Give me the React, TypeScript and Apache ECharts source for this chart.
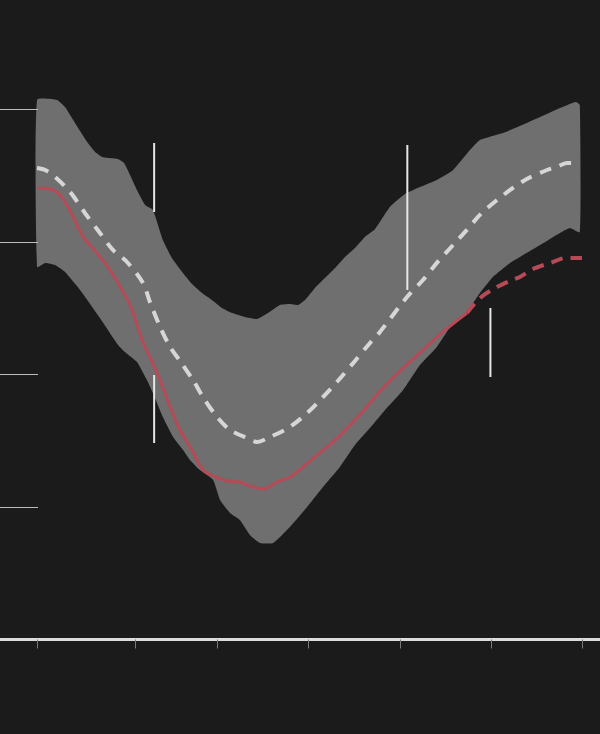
import React, { useEffect, useRef } from "react";
import * as echarts from "echarts";

// x: days from first tick, y: value units (ticks at 10,20,30,40)
const xTicks = [0, 32.5, 59.8, 90.0, 120.6, 150.8, 181.0];
const yTicks = [10, 20, 30, 40];

const bandUpper: number[][] = [
  [0, 40.72], [6.6, 40.72], [9.3, 40.19], [11.6, 39.36], [14.3, 38.38], [16.9, 37.47],
  [19.3, 36.79], [21.6, 36.42], [24.2, 36.34], [26.9, 36.26], [28.9, 35.96], [30.9, 35.06],
  [33.2, 33.92], [35.9, 32.79], [38.5, 32.42], [41.8, 30.15], [44.8, 28.79], [48.2, 27.74],
  [51.5, 26.83], [54.8, 26.15], [58.1, 25.62], [61.4, 25.02], [64.8, 24.64], [69.1, 24.34],
  [73.1, 24.19], [76.7, 24.64], [80.7, 25.25], [84.0, 25.32], [86.7, 25.25], [89.0, 25.62],
  [92.3, 26.53], [95.6, 27.28], [99.0, 28.04], [102.3, 28.87], [105.6, 29.55], [108.9, 30.38],
  [112.3, 30.98], [117.2, 32.64], [122.2, 33.62], [127.2, 34.15], [132.8, 34.68], [138.2, 35.43],
  [143.8, 36.94], [147.1, 37.7], [154.8, 38.23], [160.4, 38.75], [167.1, 39.43], [173.7, 40.11],
  [177.0, 40.42], [179.0, 40.57], [180.3, 40.34],
];

const bandLower: number[][] = [
  [0, 28.11], [2.7, 28.42], [6.0, 28.26], [9.3, 27.74], [14.3, 26.38], [20.9, 24.26],
  [26.9, 22.23], [29.2, 21.7], [33.2, 20.94], [36.5, 19.58], [38.5, 18.6], [41.8, 16.79],
  [45.2, 15.28], [48.5, 14.3], [50.8, 13.55], [54.1, 12.79], [58.5, 12.04], [60.8, 10.53],
  [64.1, 9.55], [67.4, 9.02], [70.7, 7.89], [74.1, 7.28], [78.4, 7.28], [84.0, 8.49],
  [89.7, 10.0], [95.0, 11.51], [100.6, 13.02], [105.6, 14.68], [110.6, 15.96], [115.6, 17.32],
  [121.6, 18.83], [127.2, 20.72], [132.8, 22.08], [138.2, 23.89], [142.8, 24.72], [147.1, 26.15],
  [151.4, 27.36], [157.1, 28.42], [160.4, 28.87], [167.1, 29.77], [173.7, 30.68], [177.0, 31.06],
  [180.3, 30.75],
];

const meanLine: number[][] = [
  [0, 35.58], [2.7, 35.43], [6.0, 34.91], [11.0, 33.77], [15.9, 32.19], [20.9, 30.68],
  [25.2, 29.4], [29.9, 28.49], [35.2, 26.91], [37.5, 25.47], [40.9, 23.58], [44.2, 22.08],
  [47.5, 21.02], [51.8, 19.58], [55.1, 18.3], [59.8, 16.79], [64.1, 15.81], [69.7, 15.21],
  [73.1, 14.91], [77.4, 15.28], [84.0, 16.04], [89.7, 17.09], [95.0, 18.3], [99.6, 19.43],
  [105.6, 21.02], [110.6, 22.38], [113.9, 23.21], [122.9, 25.85], [128.2, 27.13], [132.8, 28.42],
  [138.2, 29.77], [142.8, 30.91], [147.1, 32.04], [152.8, 33.17], [158.1, 34.08], [162.7, 34.75],
  [169.4, 35.43], [172.7, 35.66], [176.0, 35.96], [179.7, 35.96],
];

const currentLine: number[][] = [
  [0, 34.08], [4.3, 34.0], [7.6, 33.55], [11.0, 32.34], [15.3, 30.38], [19.9, 29.17],
  [24.2, 27.89], [27.6, 26.6], [30.9, 25.25], [34.9, 22.6], [39.9, 20.11], [44.2, 17.55],
  [47.5, 15.81], [51.8, 14.15], [55.1, 12.79], [58.5, 12.34], [63.1, 11.96], [67.4, 11.89],
  [70.7, 11.58], [75.1, 11.36], [79.7, 11.89], [84.0, 12.26], [88.3, 13.02], [93.0, 13.92],
  [98.3, 14.91], [104.0, 16.19], [108.9, 17.4], [114.9, 18.98], [121.6, 20.49], [128.2, 21.85],
  [134.8, 23.21], [142.8, 24.64],
];

const forecastLine: number[][] = [
  [142.8, 24.64], [147.1, 25.77], [152.8, 26.6], [157.1, 27.06], [160.4, 27.36], [164.7, 27.96],
  [171.4, 28.49], [175.4, 28.79], [181.0, 28.79],
];

const markerSegments: number[][][] = [
  [[38.9, 37.47], [38.9, 32.26]],
  [[38.9, 19.96], [38.9, 14.83]],
  [[123.0, 37.32], [123.0, 26.38]],
  [[150.6, 25.02], [150.6, 19.81]],
];

export default function App() {
  const ref = useRef<HTMLDivElement>(null);
  useEffect(() => {
    if (!ref.current) return;
    const chart = echarts.init(ref.current, undefined, { renderer: "svg" });
    const option: any = {
      animation: false,
      backgroundColor: "#1b1b1b",
      grid: { left: 0, right: 0, top: 0, bottom: 94.5, containLabel: false },
      xAxis: {
        type: "value",
        min: -12.3,
        max: 187,
        z: 6,
        axisLine: { show: true, onZero: false, lineStyle: { color: "#dcdcdc", width: 3 } },
        axisTick: {
          show: true,
          customValues: xTicks,
          length: 9,
          lineStyle: { color: "#7a7a7a", width: 1 },
        },
        axisLabel: { show: false },
        splitLine: { show: false },
      },
      yAxis: {
        type: "value",
        min: 0,
        max: 48.26,
        z: 6,
        axisLine: { show: false, onZero: false },
        axisTick: {
          show: true,
          inside: true,
          customValues: yTicks,
          length: 38,
          lineStyle: { color: "#bdbdbd", width: 1 },
        },
        axisLabel: { show: false },
        splitLine: { show: false },
      },
      series: [
        {
          type: "custom",
          silent: true,
          data: [[0, 30]],
          z: 1,
          renderItem: (params: any, api: any) => {
            const pts = bandUpper
              .map((p) => api.coord(p))
              .concat(bandLower.slice().reverse().map((p) => api.coord(p)));
            return {
              type: "polygon",
              shape: { points: pts, smooth: 0.15 },
              style: { fill: "#6f6f6f", stroke: "none" },
            };
          },
        },
        {
          type: "line",
          data: meanLine,
          showSymbol: false,
          silent: true,
          smooth: 0.3,
          z: 3,
          lineStyle: { color: "#d6d6d6", width: 4, type: [12, 9], cap: "butt" },
        },
        {
          type: "line",
          data: currentLine,
          showSymbol: false,
          silent: true,
          smooth: 0.3,
          z: 4,
          lineStyle: { color: "#b64a57", width: 3 },
        },
        {
          type: "line",
          data: forecastLine,
          showSymbol: false,
          silent: true,
          smooth: 0.3,
          z: 4,
          lineStyle: { color: "#b64a57", width: 4, type: [12, 8] },
        },
        ...markerSegments.map((seg) => ({
          type: "line",
          data: seg,
          showSymbol: false,
          silent: true,
          z: 5,
          lineStyle: { color: "#e6e6e6", width: 2 },
        })),
      ],
    };
    chart.setOption(option);
    return () => chart.dispose();
  }, []);
  return (
    <div
      ref={ref}
      style={{
        position: "fixed",
        left: 0,
        top: 0,
        width: 600,
        height: 734,
        background: "#1b1b1b",
      }}
    />
  );
}
